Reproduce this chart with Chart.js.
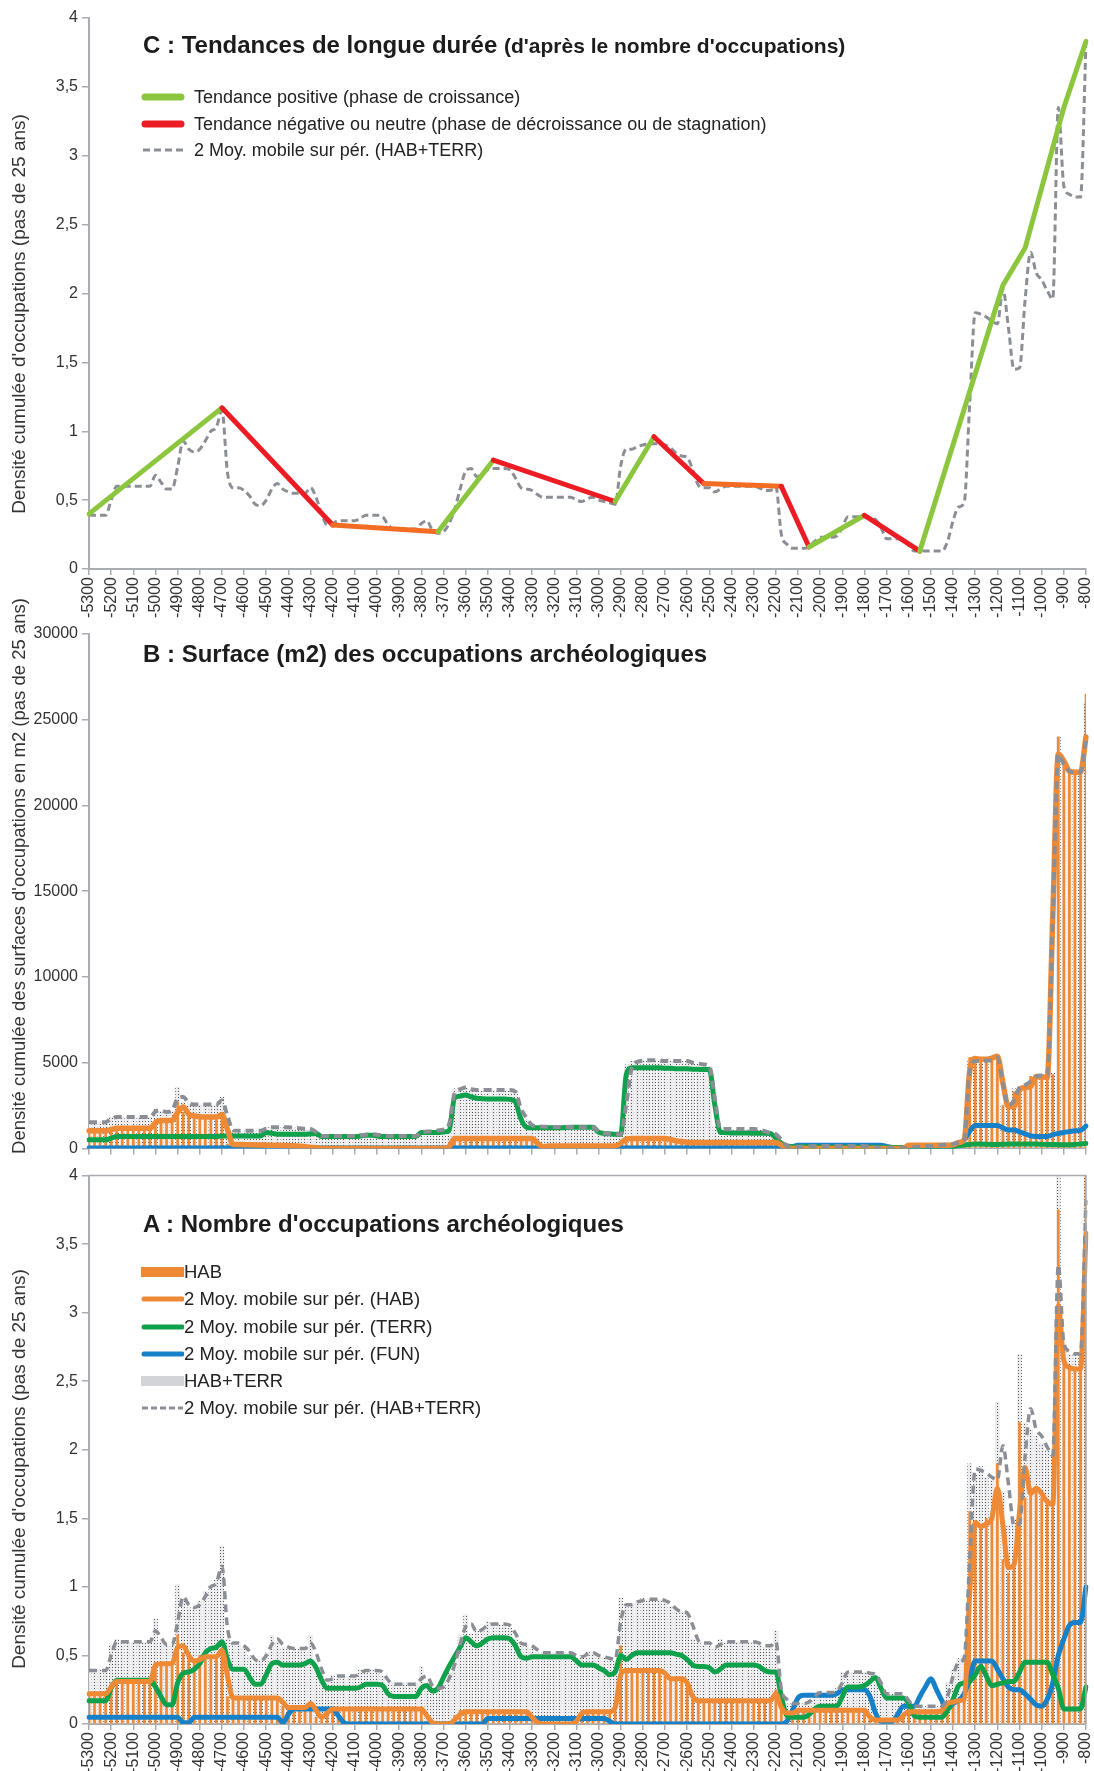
<!DOCTYPE html>
<html>
<head>
<meta charset="utf-8">
<script src="https://cdn.jsdelivr.net/npm/chart.js@4/dist/chart.umd.min.js"></script>
<style>
  body { margin: 0; width: 1094px; height: 1771px; position: relative; background: #fff; overflow: hidden;
         font-family: "Liberation Sans", Arial, sans-serif; color: #1c1c1c; }
  canvas { position: absolute; left: 0; }
  .title { position: absolute; left: 143px; font-weight: bold; font-size: 24px; line-height: 24px; white-space: nowrap; }
  .title small { font-size: 21px; }
  .leg { position: absolute; left: 141px; height: 22px; display: flex; align-items: center; font-size: 18px; white-space: nowrap; color: #222; }
  .leg svg { flex: none; }
  #legC span { margin-left: 9px; }
  #legA .leg { font-size: 18.5px; }
</style>
</head>
<body>
<canvas id="chartC" width="1094" height="622" style="top:0"></canvas>
<canvas id="chartB" width="1094" height="582" style="top:580px"></canvas>
<canvas id="chartA" width="1094" height="609" style="top:1162px"></canvas>

<div class="title" style="top:33px">C : Tendances de longue durée <small>(d'après le nombre d'occupations)</small></div>
<div id="legC">
  <div class="leg" style="top:86px"><svg width="44" height="20"><line x1="4" y1="10" x2="40" y2="10" stroke="#8cc63e" stroke-width="7" stroke-linecap="round"/></svg><span>Tendance positive (phase de croissance)</span></div>
  <div class="leg" style="top:113px"><svg width="44" height="20"><line x1="4" y1="10" x2="40" y2="10" stroke="#ec1c24" stroke-width="7" stroke-linecap="round"/></svg><span>Tendance négative ou neutre (phase de décroissance ou de stagnation)</span></div>
  <div class="leg" style="top:139px"><svg width="44" height="20"><line x1="2" y1="10" x2="42" y2="10" stroke="#8b8f95" stroke-width="3" stroke-dasharray="7 4"/></svg><span>2 Moy. mobile sur pér. (HAB+TERR)</span></div>
</div>

<div class="title" style="top:642px">B : Surface (m2) des occupations archéologiques</div>

<div class="title" style="top:1212px">A : Nombre d'occupations archéologiques</div>
<div id="legA">
  <div class="leg" style="top:1261px"><svg width="43" height="20"><rect x="0" y="5" width="43" height="10" fill="#ee8a36"/></svg><span>HAB</span></div>
  <div class="leg" style="top:1288px"><svg width="43" height="20"><line x1="3" y1="10" x2="41" y2="10" stroke="#ee8a36" stroke-width="5" stroke-linecap="round"/></svg><span>2 Moy. mobile sur pér. (HAB)</span></div>
  <div class="leg" style="top:1316px"><svg width="43" height="20"><line x1="3" y1="10" x2="41" y2="10" stroke="#10a14c" stroke-width="5" stroke-linecap="round"/></svg><span>2 Moy. mobile sur pér. (TERR)</span></div>
  <div class="leg" style="top:1343px"><svg width="43" height="20"><line x1="3" y1="10" x2="41" y2="10" stroke="#1681c9" stroke-width="5" stroke-linecap="round"/></svg><span>2 Moy. mobile sur pér. (FUN)</span></div>
  <div class="leg" style="top:1370px"><svg width="43" height="20"><rect x="0" y="5" width="43" height="10" fill="#d3d4d8"/></svg><span>HAB+TERR</span></div>
  <div class="leg" style="top:1397px"><svg width="43" height="20"><line x1="1" y1="10" x2="42" y2="10" stroke="#8b8f95" stroke-width="3" stroke-dasharray="6 3"/></svg><span>2 Moy. mobile sur pér. (HAB+TERR)</span></div>
</div>

<script>
// time steps of 25 years, -5300 .. -800
const YEARS = [];
for (let y = -5300; y <= -800; y += 25) YEARS.push(y);

// --- A / C : number of occupations ---
const HT_MA = [
  0.39,0.39,0.39,0.39, 0.5,0.6,0.6,0.6, 0.6,0.6,0.6,0.6, 0.68,0.63,0.58,0.58, 0.74,0.93,0.87,0.85,
  0.87,0.93,1.0,1.03, 1.15,0.7,0.59,0.59, 0.57,0.53,0.47,0.46, 0.5,0.58,0.62,0.58, 0.56,0.55,0.55,0.55,
  0.59,0.52,0.4,0.32, 0.33,0.35,0.35,0.35, 0.35,0.37,0.39,0.39, 0.39,0.38,0.32,0.29, 0.29,0.29,0.29,0.29,
  0.33,0.35,0.28,0.26, 0.27,0.33,0.43,0.58, 0.71,0.73,0.67,0.69, 0.72,0.73,0.73,0.73, 0.72,0.66,0.59,0.58,
  0.57,0.54,0.52,0.52, 0.52,0.52,0.52,0.52, 0.5,0.49,0.51,0.52, 0.5,0.49,0.48,0.47, 0.75,0.87,0.87,0.89,
  0.9,0.91,0.91,0.91, 0.9,0.88,0.84,0.82, 0.81,0.72,0.61,0.59, 0.59,0.56,0.58,0.6, 0.6,0.6,0.6,0.6,
  0.6,0.59,0.57,0.57, 0.6,0.25,0.18,0.15, 0.15,0.15,0.16,0.2, 0.23,0.23,0.23,0.24, 0.3,0.38,0.38,0.38,
  0.38,0.37,0.36,0.3, 0.22,0.22,0.22,0.22, 0.17,0.13,0.13,0.13, 0.13,0.13,0.13,0.2, 0.35,0.45,0.48,1.2,
  1.86,1.85,1.83,1.8, 1.78,2.03,1.75,1.45, 1.46,1.95,2.3,2.15, 2.1,2.02,1.96,3.35, 2.78,2.72,2.7,2.7,
  3.82
];
const HAB_MA = [
  0.22,0.22,0.22,0.22, 0.27,0.31,0.31,0.31, 0.31,0.31,0.31,0.31, 0.43,0.44,0.44,0.44, 0.56,0.57,0.5,0.46,
  0.47,0.49,0.49,0.49, 0.54,0.35,0.19,0.19, 0.19,0.19,0.19,0.19, 0.19,0.19,0.19,0.16, 0.12,0.12,0.12,0.12,
  0.15,0.1,0.05,0.08, 0.11,0.11,0.11,0.11, 0.11,0.11,0.11,0.11, 0.11,0.11,0.11,0.11, 0.11,0.11,0.11,0.11,
  0.11,0.06,0.01,0, 0,0,0.03,0.07, 0.09,0.09,0.09,0.09, 0.09,0.09,0.09,0.09, 0.09,0.09,0.09,0.09,
  0.05,0.01,0,0, 0,0,0,0, 0.02,0.08,0.09,0.09, 0.09,0.09,0.09,0.12, 0.36,0.39,0.39,0.39,
  0.39,0.39,0.39,0.39, 0.37,0.33,0.33,0.33, 0.3,0.2,0.17,0.17, 0.17,0.17,0.17,0.17, 0.17,0.17,0.17,0.17,
  0.17,0.17,0.17,0.17, 0.22,0.12,0.08,0.08, 0.1,0.1,0.1,0.1, 0.1,0.1,0.1,0.1, 0.1,0.1,0.1,0.1,
  0.1,0.05,0.03,0.03, 0.03,0.03,0.03,0.06, 0.09,0.09,0.09,0.09, 0.09,0.09,0.1,0.15, 0.16,0.17,0.18,0.95,
  1.47,1.44,1.46,1.5, 1.72,1.45,1.14,1.16, 1.55,1.87,1.68,1.72, 1.68,1.62,1.6,3.05, 2.65,2.6,2.59,2.59,
  3.58
];
const TERR_MA = [
  0.17,0.17,0.17,0.17, 0.26,0.32,0.32,0.32, 0.32,0.32,0.32,0.32, 0.27,0.2,0.14,0.14, 0.3,0.37,0.38,0.4,
  0.44,0.52,0.55,0.56, 0.6,0.47,0.4,0.4, 0.4,0.34,0.29,0.29, 0.36,0.44,0.45,0.43, 0.43,0.43,0.43,0.44,
  0.46,0.41,0.32,0.26, 0.26,0.26,0.26,0.26, 0.26,0.27,0.29,0.29, 0.29,0.28,0.22,0.2, 0.2,0.2,0.2,0.2,
  0.26,0.28,0.24,0.26, 0.34,0.42,0.49,0.56, 0.63,0.6,0.57,0.59, 0.62,0.63,0.63,0.63, 0.62,0.57,0.49,0.48,
  0.49,0.49,0.49,0.49, 0.49,0.49,0.49,0.49, 0.46,0.43,0.43,0.43, 0.41,0.39,0.36,0.38, 0.5,0.47,0.5,0.52,
  0.52,0.52,0.52,0.52, 0.52,0.52,0.51,0.5, 0.47,0.43,0.42,0.42, 0.41,0.38,0.4,0.43, 0.43,0.43,0.43,0.43,
  0.43,0.42,0.39,0.38, 0.38,0.2,0.06,0.05, 0.05,0.05,0.07,0.11, 0.13,0.13,0.13,0.13, 0.2,0.27,0.27,0.27,
  0.28,0.31,0.34,0.26, 0.19,0.19,0.19,0.19, 0.15,0.06,0.05,0.05, 0.05,0.05,0.05,0.1, 0.18,0.28,0.3,0.31,
  0.36,0.42,0.35,0.28, 0.29,0.3,0.31,0.31, 0.38,0.45,0.45,0.45, 0.45,0.45,0.36,0.26, 0.11,0.11,0.11,0.11,
  0.27
];
const FUN_MA = [
  0.05,0.05,0.05,0.05, 0.05,0.05,0.05,0.05, 0.05,0.05,0.05,0.05, 0.05,0.05,0.05,0.05, 0.05,0.01,0.01,0.05,
  0.05,0.05,0.05,0.05, 0.05,0.05,0.05,0.05, 0.05,0.05,0.05,0.05, 0.05,0.05,0.05,0.01, 0.07,0.11,0.11,0.11,
  0.11,0.11,0.11,0.11, 0.11,0.06,0.01,0, 0,0,0,0, 0,0,0,0, 0,0,0,0,
  0,0,0,0, 0,0,0,0, 0,0,0,0, 0.04,0.04,0.04,0.04, 0.04,0.04,0.04,0.04,
  0.04,0.04,0.04,0.04, 0.04,0.04,0.04,0.04, 0.04,0.04,0.04,0.04, 0.04,0.04,0.02,0, 0,0,0,0,
  0,0,0,0, 0,0,0,0, 0,0,0,0, 0,0,0,0, 0,0,0,0,
  0,0,0,0, 0,0,0.02,0.1, 0.19,0.21,0.21,0.21, 0.21,0.21,0.21,0.22, 0.25,0.25,0.25,0.25,
  0.25,0.2,0.08,0.02, 0.02,0.02,0.07,0.13, 0.13,0.13,0.2,0.27, 0.33,0.25,0.17,0.11, 0.15,0.17,0.22,0.33,
  0.46,0.46,0.46,0.46, 0.4,0.33,0.27,0.25, 0.25,0.22,0.18,0.14, 0.13,0.18,0.3,0.5, 0.62,0.72,0.74,0.74,
  1.0
];
const HAB_BARS = [
  0.22,0.22,0.22,0.22, 0.3,0.32,0.32,0.32, 0.32,0.32,0.32,0.32, 0.45,0.45,0.43,0.44, 0.65,0.52,0.47,0.45,
  0.5,0.5,0.48,0.5, 0.55,0.2,0.19,0.19, 0.19,0.19,0.19,0.19, 0.19,0.19,0.18,0.13, 0.12,0.12,0.12,0.12,
  0.16,0.05,0.05,0.1, 0.11,0.11,0.11,0.11, 0.11,0.11,0.11,0.11, 0.11,0.11,0.11,0.11, 0.11,0.11,0.11,0.11,
  0.11,0.02,0,0, 0,0,0.06,0.1, 0.09,0.09,0.09,0.09, 0.09,0.09,0.09,0.09, 0.09,0.09,0.09,0.09,
  0.02,0,0,0, 0,0,0,0, 0.05,0.1,0.09,0.09, 0.09,0.09,0.09,0.15, 0.57,0.4,0.39,0.39,
  0.39,0.39,0.39,0.39, 0.35,0.33,0.33,0.33, 0.27,0.18,0.17,0.17, 0.17,0.17,0.17,0.17, 0.17,0.17,0.17,0.17,
  0.17,0.17,0.17,0.17, 0.25,0.1,0.08,0.08, 0.1,0.1,0.1,0.1, 0.1,0.1,0.1,0.1, 0.1,0.1,0.1,0.1,
  0.1,0.03,0.03,0.03, 0.03,0.03,0.03,0.08, 0.09,0.09,0.09,0.09, 0.09,0.09,0.1,0.15, 0.16,0.17,0.18,1.55,
  1.45,1.45,1.5,1.55, 1.9,1.2,1.1,1.2, 2.2,1.65,1.72,1.7, 1.65,1.6,1.58,3.75, 2.65,2.6,2.58,2.6,
  4.0
];
const HT_BARS = [
  0.4,0.4,0.4,0.4, 0.58,0.62,0.6,0.6, 0.6,0.6,0.6,0.6, 0.77,0.6,0.58,0.58, 1.02,0.9,0.85,0.85,
  0.9,0.97,1.02,1.05, 1.3,0.62,0.6,0.58, 0.56,0.5,0.45,0.47, 0.52,0.65,0.6,0.56, 0.55,0.55,0.55,0.56,
  0.65,0.45,0.35,0.3, 0.36,0.35,0.35,0.35, 0.35,0.4,0.4,0.4, 0.38,0.35,0.3,0.3, 0.3,0.3,0.3,0.3,
  0.42,0.3,0.26,0.26, 0.3,0.38,0.5,0.65, 0.8,0.66,0.68,0.7, 0.75,0.73,0.73,0.73, 0.7,0.62,0.58,0.58,
  0.56,0.52,0.52,0.52, 0.52,0.52,0.52,0.52, 0.48,0.5,0.53,0.52, 0.49,0.49,0.47,0.46, 0.92,0.87,0.88,0.9,
  0.92,0.91,0.91,0.91, 0.9,0.86,0.83,0.82, 0.8,0.62,0.6,0.58, 0.57,0.56,0.62,0.6, 0.6,0.6,0.6,0.6,
  0.6,0.58,0.56,0.58, 0.68,0.22,0.15,0.15, 0.15,0.15,0.18,0.22, 0.24,0.23,0.23,0.26, 0.38,0.38,0.38,0.38,
  0.38,0.36,0.3,0.22, 0.22,0.22,0.22,0.2, 0.14,0.13,0.13,0.13, 0.13,0.13,0.15,0.3, 0.4,0.48,0.5,1.9,
  1.82,1.88,1.8,1.78, 2.35,1.7,1.45,1.5, 2.7,2.2,2.15,2.1, 2.05,2.0,1.95,4.0, 2.75,2.7,2.7,2.7,
  4.0
];

// C : long-term trend break points
const TREND_YEARS  = [-5300, -4700, -4200, -3725, -3475, -2925, -2750, -2525, -2175, -2050, -1800, -1550, -1175, -1075, -900, -800];
const TREND_VALUES = [0.4, 1.17, 0.32, 0.27, 0.79, 0.49, 0.96, 0.62, 0.6, 0.16, 0.39, 0.13, 2.06, 2.33, 3.35, 3.83];

// --- B : surfaces (m2) ---
const HT_SURF_MA = [
  1530,1530,1530,1530, 1730,1830,1830,1830, 1830,1830,1830,1830, 2150,2220,2120,2200, 2920,3000,2650,2560,
  2560,2560,2560,2560, 2800,1900,1050,1030, 1030,1030,1030,1030, 1150,1230,1230,1230, 1230,1200,1180,1150,
  1130,950,730,730, 730,730,730,730, 730,760,800,830, 800,760,730,730, 730,730,730,730,
  950,980,1000,1050, 1100,1400,3200,3450, 3550,3450,3410,3410, 3410,3410,3410,3410, 3410,3300,2300,1790,
  1350,1290,1270,1260, 1250,1250,1250,1250, 1250,1240,1240,1240, 1000,880,850,830, 830,2600,4700,5050,
  5100,5140,5140,5120, 5100,5100,5100,5100, 5100,5000,4950,4900, 4800,2900,1130,1130, 1130,1130,1130,1130,
  1130,1100,1000,900, 830,500,150,100, 100,110,130,140, 140,140,140,140, 140,140,140,140,
  140,100,50,10, 10,10,10,10, 30,80,110,140, 140,170,200,240, 250,350,540,4500,
  5100,5100,5120,5140, 5300,3800,2500,2800, 3550,3700,3900,4200, 4250,4300,13500,23000, 22400,22000,21930,21930,
  23900
];
const HAB_SURF_MA = [
  1030,1030,1030,1030, 1100,1170,1170,1170, 1170,1170,1170,1170, 1500,1630,1630,1630, 2100,2420,2000,1890,
  1850,1830,1830,1830, 1970,1100,240,230, 220,210,200,200, 190,180,180,170, 160,150,130,100,
  60,40,0,0, 0,0,0,0, 0,0,0,0, 0,0,0,0, 0,0,0,0,
  0,0,0,0, 0,100,580,580, 580,580,580,580, 580,580,580,580, 580,580,580,580,
  580,300,100,140, 140,140,140,140, 140,140,140,140, 140,140,140,140, 300,540,580,580,
  580,580,580,580, 580,520,440,400, 360,340,340,340, 340,340,340,340, 340,340,340,340,
  340,340,340,340, 340,200,40,0, 0,0,0,0, 0,0,0,0, 0,0,0,0,
  0,0,0,0, 0,0,0,0, 180,180,180,180, 180,180,180,180, 220,340,490,4500,
  5250,5200,5200,5260, 5380,3800,2440,2440, 3410,3550,3610,4190, 4180,4150,13500,23000, 22600,22000,21930,21930,
  24000
];
const TERR_SURF_MA = [
  500,500,500,500, 600,690,690,690, 690,690,690,690, 690,690,690,690, 690,690,690,690,
  690,690,690,690, 730,730,730,730, 730,730,730,730, 930,880,830,830, 830,830,830,830,
  850,870,690,690, 690,690,690,690, 690,720,770,770, 720,690,690,690, 690,690,690,690,
  930,930,930,930, 950,1030,2950,3050, 3120,3000,2920,2900, 2880,2880,2880,2880, 2860,2700,1700,1230,
  1200,1200,1200,1200, 1200,1200,1220,1230, 1230,1230,1230,1230, 950,870,850,830, 830,4300,4700,4700,
  4700,4700,4700,4700, 4680,4680,4650,4650, 4640,4620,4610,4600, 4600,2500,930,920, 900,900,900,900,
  880,880,880,870, 600,300,140,100, 80,100,100,100, 90,80,80,80, 70,70,70,70,
  70,60,60,50, 50,50,50,50, 50,50,50,50, 50,50,50,60, 100,160,200,230,
  250,250,240,230, 230,240,250,260, 260,260,250,250, 240,230,230,220, 220,220,230,260,
  290
];
const FUN_SURF_MA = [
  30,30,30,30, 30,30,30,30, 30,30,30,30, 30,30,30,30, 30,30,30,30,
  30,30,30,30, 30,30,30,30, 30,30,30,30, 30,30,30,30, 30,30,30,30,
  30,30,30,30, 30,30,30,30, 30,30,30,30, 30,30,30,30, 30,30,30,30,
  30,30,30,30, 30,30,30,30, 30,30,30,30, 30,30,30,30, 30,30,30,30,
  30,30,30,30, 30,30,30,30, 30,30,30,30, 30,30,30,30, 30,30,30,30,
  30,30,30,30, 30,30,30,30, 30,30,30,30, 30,30,30,30, 30,30,30,30,
  30,30,30,30, 30,40,60,100, 180,180,180,180, 180,180,180,180, 180,180,180,180,
  180,180,180,180, 120,60,40,40, 40,40,40,40, 40,40,40,40, 100,240,500,1000,
  1340,1340,1340,1340, 1340,1200,1070,1070, 970,850,730,700, 700,700,800,870, 930,980,1030,1050,
  1300
];
const HAB_SURF_BARS = [
  1050,1030,1030,1030, 1200,1200,1200,1200, 1170,1170,1170,1170, 1700,1630,1630,1630, 2700,2100,1900,1890,
  1850,1830,1830,1830, 2100,250,240,230, 220,210,200,200, 190,180,180,170, 160,150,130,100,
  60,40,0,0, 0,0,0,0, 0,0,0,0, 0,0,0,0, 0,0,0,0,
  0,0,0,0, 0,200,580,580, 580,580,580,580, 580,580,580,580, 580,580,580,580,
  580,100,100,140, 140,140,140,140, 140,140,140,140, 140,140,140,140, 400,580,580,580,
  580,580,580,580, 580,480,440,400, 360,340,340,340, 340,340,340,340, 340,340,340,340,
  340,340,340,340, 340,60,20,0, 0,0,0,0, 0,0,0,0, 0,0,0,0,
  0,0,0,0, 0,0,0,0, 180,180,180,180, 180,180,180,180, 250,400,580,5300,
  5250,5200,5200,5300, 5400,2500,2440,3300, 3500,3600,4200,4200, 4180,4150,4300,24000, 22600,22000,21930,21930,
  26500
];
const HT_SURF_BARS = [
  1600,1550,1550,1550, 1850,1850,1850,1850, 1850,1850,1850,1850, 2300,2200,2150,2200, 3600,2700,2600,2560,
  2560,2560,2560,2560, 3000,1100,1050,1030, 1030,1030,1030,1030, 1250,1250,1230,1230, 1230,1200,1180,1150,
  1150,800,730,730, 730,730,730,730, 730,780,830,830, 800,760,730,730, 730,730,730,730,
  1000,1000,1000,1050, 1100,1500,3500,3600, 3550,3450,3410,3410, 3410,3410,3410,3410, 3410,3300,1900,1700,
  1300,1250,1250,1240, 1230,1230,1230,1230, 1230,1230,1230,1230, 900,860,850,830, 900,4900,5100,5100,
  5150,5140,5140,5120, 5100,5100,5100,5100, 5100,5000,4950,4900, 4800,1300,1130,1130, 1130,1130,1130,1130,
  1130,1100,1000,900, 830,200,120,100, 120,130,140,140, 140,140,140,140, 140,140,140,140,
  140,60,20,10, 10,10,10,30, 50,100,120,140, 150,180,220,250, 270,400,600,5200,
  5100,5100,5150,5200, 5400,2600,2450,3500, 3600,3800,4000,4300, 4300,4300,4400,24000, 22500,22000,21930,21930,
  26000
];

const AXIS = "#a9acb0";
const TEXT = "#333333";
const ORANGE = "#ee8a36";
const GREEN = "#10a14c";
const BLUE = "#1681c9";
const DASH_GREY = "#8b8f95";
const TREND_GREEN = "#8cc63e";
const TREND_RED = "#ec1c24";
const TREND_ORANGE = "#f26c23";
const FONT = "'Liberation Sans', Arial, sans-serif";

function dotPattern(canvas) {
  var tile = document.createElement("canvas");
  tile.width = 3;
  tile.height = 3;
  var g = tile.getContext("2d");
  g.fillStyle = "#ececee";
  g.fillRect(0, 0, 3, 3);
  g.fillStyle = "#555555";
  g.fillRect(1, 1, 1, 1);
  return canvas.getContext("2d").createPattern(tile, "repeat");
}

// extra drawing: year labels (every 100 years), rotated y titles, frame of panel A
const decor = {
  id: "decor",
  afterDraw(chart, args, opts) {
    var ctx = chart.ctx;
    var area = chart.chartArea;
    var x = chart.scales.x;
    ctx.save();
    if (opts.frame) {
      ctx.strokeStyle = AXIS;
      ctx.lineWidth = 1.5;
      ctx.beginPath();
      ctx.moveTo(area.left, area.top);
      ctx.lineTo(area.right, area.top);
      ctx.lineTo(area.right, area.bottom);
      ctx.stroke();
    }
    if (opts.yearLabels) {
      ctx.fillStyle = TEXT;
      ctx.font = "16px " + FONT;
      ctx.textAlign = "right";
      ctx.textBaseline = "middle";
      YEARS.forEach((year, i) => {
        if (i % 4 !== 0) return;
        ctx.save();
        ctx.translate(x.getPixelForValue(i), area.bottom + 8);
        ctx.rotate(-Math.PI / 2);
        ctx.fillText(String(year), 0, 0);
        ctx.restore();
      });
    }
    if (opts.yTitle) {
      ctx.translate(20, opts.yTitleY);
      ctx.rotate(-Math.PI / 2);
      ctx.textAlign = "center";
      ctx.textBaseline = "middle";
      ctx.fillStyle = TEXT;
      ctx.font = opts.yTitleSize + "px " + FONT;
      ctx.fillText(opts.yTitle, 0, 0);
    }
    ctx.restore();
  }
};

function buildOptions(geo) {
  return {
    responsive: false,
    animation: false,
    events: [],
    layout: { padding: { left: 0, right: 8, top: geo.top, bottom: 0 } },
    plugins: {
      legend: { display: false },
      tooltip: { enabled: false },
      decor: { frame: geo.frame, yearLabels: geo.labels, yTitle: geo.yTitle, yTitleY: geo.yTitleY, yTitleSize: geo.yTitleSize }
    },
    scales: {
      x: {
        offset: false,
        grid: {
          offset: false,
          drawOnChartArea: false,
          tickLength: 6,
          lineWidth: 1.5,
          color: ctx => ctx.index % 4 === 0 ? AXIS : "rgba(0,0,0,0)"
        },
        border: { color: AXIS, width: 2 },
        ticks: { display: false },
        afterFit: scale => { scale.height = geo.xHeight; }
      },
      y: {
        min: 0,
        max: geo.max,
        grid: { drawOnChartArea: false, tickLength: 7, lineWidth: 1.5, color: AXIS },
        border: { color: AXIS, width: 2 },
        ticks: {
          stepSize: geo.step,
          padding: 4,
          color: TEXT,
          font: { family: FONT, size: 16 },
          callback: value => String(value).replace(".", ",")
        },
        afterFit: scale => { scale.width = 89; }
      }
    }
  };
}

function maLine(label, data, color, width, order, dash) {
  return {
    type: "line",
    label: label,
    data: data,
    borderColor: color,
    borderWidth: width,
    borderDash: dash || [],
    borderJoinStyle: "round",
    borderCapStyle: dash ? "butt" : "round",
    cubicInterpolationMode: "monotone",
    pointRadius: 0,
    fill: false,
    order: order
  };
}

function drawChartC() {
  var trend = {
    type: "line",
    label: "Tendance",
    data: TREND_YEARS.map((year, i) => ({ x: year, y: TREND_VALUES[i] })),
    borderWidth: 5,
    borderColor: TREND_GREEN,
    borderCapStyle: "round",
    borderJoinStyle: "round",
    pointRadius: 0,
    tension: 0,
    order: 0,
    segment: {
      borderColor: ctx => {
        var a = ctx.p0.parsed.y, b = ctx.p1.parsed.y;
        if (Math.abs(b - a) < 0.06) return TREND_ORANGE;
        return b > a ? TREND_GREEN : TREND_RED;
      }
    }
  };

  new Chart("chartC", {
    type: "line",
    data: {
      labels: YEARS,
      datasets: [trend, maLine("2 Moy. mobile sur pér. (HAB+TERR)", HT_MA, DASH_GREY, 3, 1, [7, 4])]
    },
    options: buildOptions({
      top: 18, xHeight: 53, labels: true, max: 4, step: 0.5, frame: false,
      yTitle: "Densité cumulée d'occupations (pas de 25 ans)", yTitleY: 314, yTitleSize: 19
    }),
    plugins: [decor]
  });
}

function drawChartB() {
  var canvas = document.getElementById("chartB");
  var options = buildOptions({
    top: 54, xHeight: 13, labels: false, max: 30000, step: 5000, frame: false,
    yTitle: "Densité cumulée des surfaces d'occupations en m2 (pas de 25 ans)", yTitleY: 296, yTitleSize: 18.5
  });

  new Chart(canvas, {
    type: "bar",
    data: {
      labels: YEARS,
      datasets: [
        maLine("2 Moy. mobile sur pér. (HAB+TERR)", HT_SURF_MA, DASH_GREY, 4, 0, [8, 5]),
        maLine("2 Moy. mobile sur pér. (HAB)", HAB_SURF_MA, ORANGE, 5.5, 1),
        maLine("2 Moy. mobile sur pér. (TERR)", TERR_SURF_MA, GREEN, 5, 2),
        maLine("2 Moy. mobile sur pér. (FUN)", FUN_SURF_MA, BLUE, 5, 3),
        { label: "HAB", data: HAB_SURF_BARS, backgroundColor: ORANGE, barThickness: 2, grouped: false, order: 4 },
        { label: "HAB+TERR", data: HT_SURF_BARS, backgroundColor: dotPattern(canvas), categoryPercentage: 1, barPercentage: 0.85, grouped: false, order: 5 }
      ]
    },
    options: options,
    plugins: [decor]
  });
}

function drawChartA() {
  var canvas = document.getElementById("chartA");
  var options = buildOptions({
    top: 10, xHeight: 47, labels: true, max: 4, step: 0.5, frame: true,
    yTitle: "Densité cumulée d'occupations (pas de 25 ans)", yTitleY: 307, yTitleSize: 19
  });

  new Chart(canvas, {
    type: "bar",
    data: {
      labels: YEARS,
      datasets: [
        maLine("2 Moy. mobile sur pér. (HAB+TERR)", HT_MA, DASH_GREY, 3.5, 0, [8, 5]),
        maLine("2 Moy. mobile sur pér. (HAB)", HAB_MA, ORANGE, 5, 1),
        maLine("2 Moy. mobile sur pér. (TERR)", TERR_MA, GREEN, 5, 2),
        maLine("2 Moy. mobile sur pér. (FUN)", FUN_MA, BLUE, 5, 3),
        { label: "HAB", data: HAB_BARS, backgroundColor: ORANGE, barThickness: 2, grouped: false, order: 4 },
        { label: "HAB+TERR", data: HT_BARS, backgroundColor: dotPattern(canvas), categoryPercentage: 1, barPercentage: 0.85, grouped: false, order: 5 }
      ]
    },
    options: options,
    plugins: [decor]
  });
}

drawChartC();
drawChartB();
drawChartA();
</script>
</body>
</html>
